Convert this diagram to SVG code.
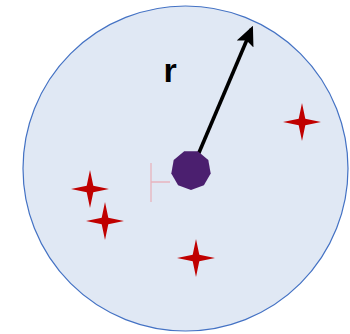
<svg xmlns="http://www.w3.org/2000/svg" width="350" height="334" viewBox="0 0 350 334">
<defs>
<style>
.star{fill:#c00000}
</style>
<path id="st" d="M0,-19 L3.3,-3.3 L19,0 L3.3,3.3 L0,19 L-3.3,3.3 L-19,0 L-3.3,-3.3Z"/>
<marker id="ah" markerWidth="5.5" markerHeight="5" refX="4.5" refY="2.5" orient="auto" markerUnits="strokeWidth">
<path d="M0,0 L5.5,2.5 L0,5 L1,2.5 Z" fill="#000"/>
</marker>
</defs>
<rect width="350" height="334" fill="#fff"/>
<g id="circle"><circle cx="185.5" cy="168.5" r="162.5" fill="#e0e8f4" stroke="#4472c4" stroke-width="1.2"/></g>
<g id="connectors">
<line x1="195" y1="162" x2="251.5" y2="29" stroke="#000" stroke-width="3.6" marker-end="url(#ah)"/>
<path d="M151,163 V202 M151,182 H170" stroke="#e8b4be" stroke-width="1.3" fill="none"/>
</g>
<g id="center"><polygon points="191,190 178.1,185.3 171.3,173.5 173.7,160 184.2,151.2 197.8,151.2 208.3,160 210.7,173.5 203.9,185.3" fill="#4b1f6f"/></g>
<g id="label"><text x="170" y="82" font-family="Liberation Sans, Arial, sans-serif" font-weight="bold" font-size="34" text-anchor="middle">r</text></g>
<g id="star1" class="star"><use href="#st" x="90" y="189"/></g>
<g id="star2" class="star"><use href="#st" x="105" y="221"/></g>
<g id="star3" class="star"><use href="#st" x="302" y="122"/></g>
<g id="star4" class="star"><use href="#st" x="196" y="258"/></g>
</svg>
